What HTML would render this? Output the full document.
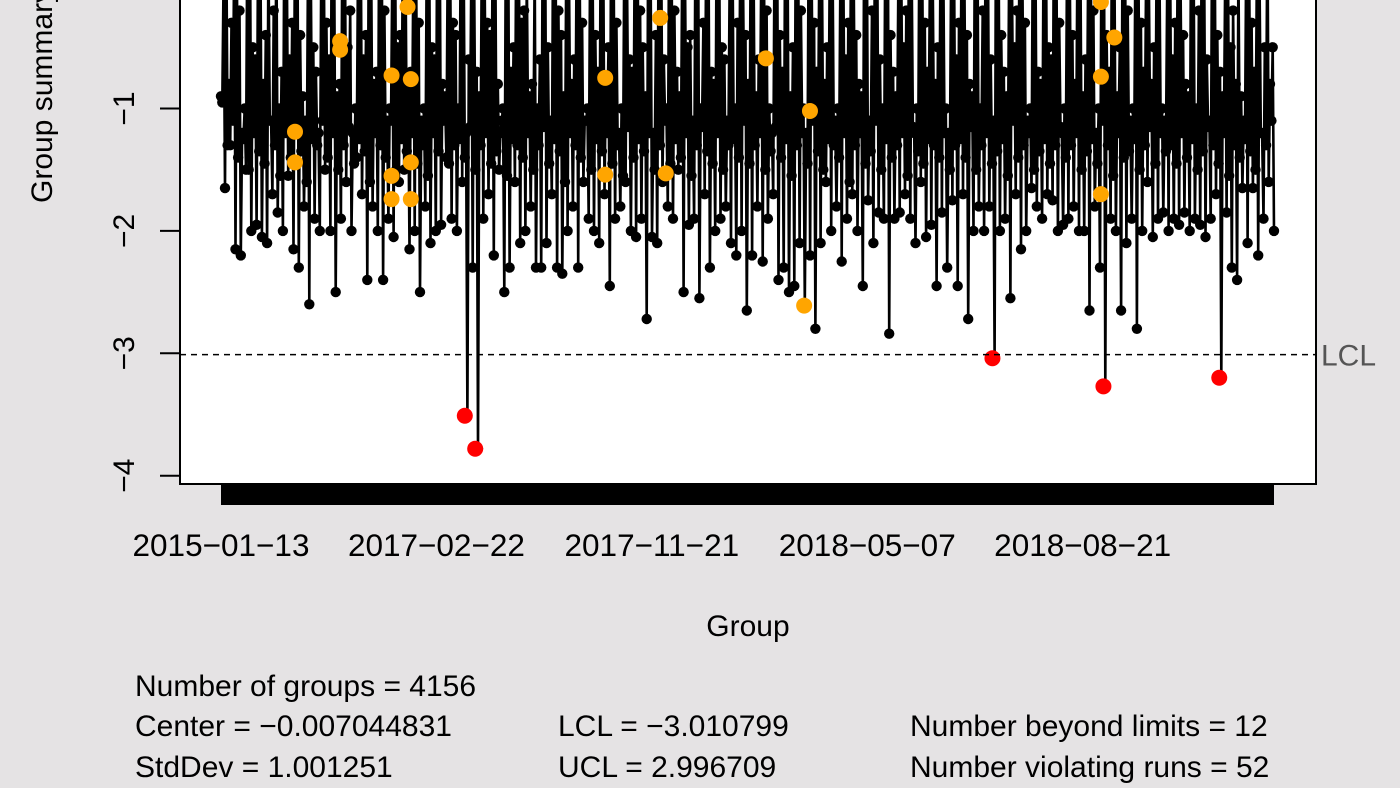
<!DOCTYPE html>
<html><head><meta charset="utf-8"><style>
html,body{margin:0;padding:0;background:#e5e3e4;}
svg{display:block;font-family:"Liberation Sans",Arial,sans-serif;}
</style></head><body>
<svg id="chart" width="1400" height="788" viewBox="0 0 1400 788" xmlns="http://www.w3.org/2000/svg">
<rect x="0" y="0" width="1400" height="788" fill="#e5e3e4"/>
<rect x="180" y="-5" width="1136" height="489" fill="#fff" stroke="#000" stroke-width="2"/>
<g id="series"></g>
<g id="yaxis"></g>
<g id="xaxis"></g>
<text x="0" y="0" transform="translate(52,203) rotate(-90)" font-size="30" fill="#000">Group summary statistics</text>
<text x="748" y="636" font-size="30" text-anchor="middle">Group</text>
<g font-size="30" fill="#000">
<text x="135" y="696">Number of groups = 4156</text>
<text x="135" y="736">Center = −0.007044831</text>
<text x="135" y="777">StdDev = 1.001251</text>
<text x="558" y="736">LCL = −3.010799</text>
<text x="558" y="777">UCL = 2.996709</text>
<text x="910" y="736">Number beyond limits = 12</text>
<text x="910" y="777">Number violating runs = 52</text>
</g>
</svg>
<script>
const nGroups = 4156;
const lcl = -3.010799;
const yTicks = [-1, -2, -3, -4];
const xTickLabels = ["2015-01-13","2017-02-22","2017-11-21","2018-05-07","2018-08-21"];
const xTickGroups = [1, 851, 1701, 2551, 3401];
const lows = [
-1.65,-1.3,-2.15,-2.2,-1.5,-2.0,-1.95,-2.05,-2.1,-1.7,-1.85,-2.0,-1.55,-2.15,-2.3,-1.8,-2.6,-1.9,-2.0,-1.5,
-2.0,-2.5,-1.9,-1.6,-2.0,-1.4,-1.7,-2.4,-1.8,-2.0,-2.4,-1.9,-2.05,-1.6,-1.5,-2.15,-2.0,-2.5,-1.8,-2.1,
-2.0,-1.95,-1.4,-1.9,-2.0,-1.6,-3.51,-2.3,-3.78,-1.9,-1.7,-2.2,-1.5,-2.5,-2.3,-1.6,-2.1,-2.0,-1.8,-2.3,
-2.3,-2.1,-1.7,-2.3,-2.35,-2.0,-1.8,-2.3,-1.6,-1.9,-2.0,-2.1,-1.7,-2.45,-1.9,-1.8,-1.6,-2.0,-2.05,-1.9,
-2.72,-2.05,-2.1,-1.6,-1.8,-1.9,-1.5,-2.5,-1.95,-1.9,-2.55,-1.7,-2.3,-2.0,-1.9,-1.8,-2.1,-2.2,-2.0,-2.65,
-2.2,-1.8,-2.25,-1.9,-1.7,-2.4,-2.3,-2.5,-2.45,-2.1,-2.6,-2.2,-2.8,-2.1,-1.6,-2.0,-1.8,-2.25,-1.9,-1.7,
-2.0,-2.45,-1.75,-2.1,-1.85,-1.9,-2.84,-1.9,-1.85,-1.7,-1.9,-2.1,-1.6,-2.05,-1.95,-2.45,-1.85,-2.3,-1.75,-2.45,
-1.7,-2.72,-2.0,-1.8,-2.0,-1.8,-3.04,-2.0,-1.9,-2.55,-1.7,-2.15,-2.0,-1.65,-1.8,-1.9,-1.7,-1.75,-2.0,-1.95,
-1.9,-1.8,-2.0,-2.0,-2.65,-1.8,-2.3,-3.27,-1.9,-2.0,-2.65,-2.1,-1.9,-2.8,-2.0,-1.6,-2.05,-1.9,-1.85,-2.0,
-1.9,-1.95,-1.85,-2.0,-1.9,-1.95,-2.05,-1.9,-1.7,-3.20,-1.85,-2.3,-2.4,-1.65,-2.1,-1.65,-2.2,-1.9,-1.6,-2.0];
const uppers = [
-0.95,-1.3,-1.1,-1.4,-1.25,-1.5,-1.2,-1.35,-1.45,-1.1,-1.3,-1.55,-1.2,-1.4,-1.15,-1.35,-1.6,-1.25,-1.3,-1.1,
-1.4,-1.2,-1.5,-1.3,-1.15,-1.45,-1.25,-1.35,-1.6,-1.2,-1.3,-1.4,-1.1,-1.5,-1.25,-1.35,-1.2,-1.45,-1.3,-1.55,
-1.2,-1.35,-1.1,-1.45,-1.3,-1.25,-1.4,-1.15,-1.5,-1.3,-1.2,-1.45,-1.35,-1.1,-1.55,-1.25,-1.3,-1.4,-1.2,-1.5,
-1.3,-1.15,-1.45,-1.25,-1.35,-1.6,-1.2,-1.3,-1.4,-1.1,-1.5,-1.25,-1.35,-1.2,-1.45,-1.3,-1.55,-1.15,-1.4,-1.25,
-1.35,-1.2,-1.5,-1.3,-1.1,-1.45,-1.25,-1.4,-1.2,-1.55,-1.3,-1.15,-1.35,-1.45,-1.2,-1.5,-1.3,-1.25,-1.4,-1.1,
-1.45,-1.3,-1.2,-1.5,-1.35,-1.15,-1.4,-1.25,-1.55,-1.3,-1.2,-1.45,-1.1,-1.35,-1.5,-1.25,-1.3,-1.4,-1.2,-1.6,
-1.3,-1.2,-1.45,-1.35,-1.1,-1.5,-1.25,-1.4,-1.3,-1.2,-1.55,-1.15,-1.35,-1.45,-1.25,-1.3,-1.4,-1.2,-1.5,-1.3,
-1.25,-1.4,-1.15,-1.5,-1.3,-1.2,-1.45,-1.35,-1.25,-1.55,-1.1,-1.4,-1.3,-1.2,-1.5,-1.35,-1.25,-1.45,-1.3,-1.15,
-1.4,-1.3,-1.2,-1.5,-1.35,-1.25,-1.45,-1.1,-1.3,-1.55,-1.2,-1.4,-1.35,-1.25,-1.5,-1.3,-1.15,-1.45,-1.2,-1.35,
-1.3,-1.45,-1.2,-1.4,-1.25,-1.5,-1.35,-1.15,-1.3,-1.45,-1.2,-1.55,-1.3,-1.4,-1.25,-1.35,-1.5,-1.2,-1.3,-1.1];
const highs = [
-0.9,0.4,-0.3,0.2,-1.2,0.6,-0.5,0.1,-0.8,0.3,-0.2,-1.0,0.5,-0.6,0.2,-0.4,-1.1,0.4,-0.7,0.1,
-0.3,0.5,-0.9,0.2,-0.5,-1.2,0.3,-0.6,0.1,-0.8,0.4,-0.2,-1.0,0.6,-0.4,0.2,-0.7,0.3,-1.1,0.1,
-0.5,0.4,-0.8,0.2,-0.3,-1.0,0.5,-0.6,0.3,-0.9,0.1,-0.4,0.6,-1.2,0.2,-0.7,0.4,-0.3,0.1,-0.8,
-1.0,0.3,-0.5,0.5,-0.2,-0.9,0.2,-0.6,0.4,-1.1,0.1,-0.4,0.3,-0.8,0.6,-0.3,-1.0,0.2,-0.7,0.4,
-0.5,0.1,-1.2,0.3,-0.6,0.5,-0.2,-0.9,0.2,-0.4,0.4,-1.0,0.1,-0.7,0.3,-0.5,-1.1,0.6,-0.3,0.2,
-0.8,0.4,-0.6,0.1,-1.0,0.3,-0.4,0.5,-0.9,0.2,-0.2,-1.2,0.4,-0.7,0.1,-0.5,0.3,-1.0,0.6,-0.3,
0.2,-0.8,0.4,-1.1,0.1,-0.6,0.3,-0.4,-0.9,0.5,-0.2,0.2,-1.0,0.4,-0.7,0.1,-0.5,0.3,-1.2,0.6,
-0.3,0.2,-0.8,0.4,-1.0,0.1,-0.6,0.5,-0.4,-0.9,0.3,-0.2,0.2,-1.1,0.4,-0.7,0.1,-0.5,0.6,-0.3,
-1.0,0.2,-0.8,0.4,-0.6,0.1,-1.2,0.3,-0.4,0.5,-0.9,0.2,-0.2,-1.0,0.4,-0.7,0.1,-0.5,0.3,-1.1,
0.6,-0.3,0.2,-0.8,0.4,-1.0,0.1,-0.6,0.5,-0.4,-0.9,0.3,-0.2,0.2,-1.1,0.4,-0.7,0.1,-0.5,-0.8];
const orangeGroups = [293,293,471,471,674,674,674,737,750,750,750,1517,1517,1734,1756,2151,2325,2302,3473,3473,3526,3473];
const orangeValues = [-1.19,-1.44,-0.52,-0.45,-0.73,-1.55,-1.74,-0.17,-0.76,-1.44,-1.74,-0.75,-1.54,-0.26,-1.53,-0.59,-1.02,-2.61,-0.13,-0.74,-0.42,-1.70];
const redGroups = [963, 1004, 3045, 3483, 3940];
const redValues = [-3.51,-3.78,-3.04,-3.27,-3.20];

const NS = "http://www.w3.org/2000/svg";
const X0 = 221, X1 = 1274;
function xScale(g){ return X0 + (g - 1) / (nGroups - 1) * (X1 - X0); }
function yScale(v){ return 108.5 + (-1 - v) * 122.4; }
function mk(tag, attrs, parent){ const e = document.createElementNS(NS, tag); for (const k in attrs) e.setAttribute(k, attrs[k]); parent.appendChild(e); return e; }

const series = document.getElementById('series');
const clip = mk('clipPath', {id:'pc'}, series);
mk('rect', {x:180, y:0, width:1136, height:484}, clip);
const g = mk('g', {'clip-path':'url(#pc)'}, series);


const seq = [];
const nBlocks = lows.length;
for (let i = 0; i < nBlocks; i++) {
  seq.push(highs[i]);
  seq.push(uppers[i]);
  seq.push(highs[(i + 7) % nBlocks]);
  seq.push(lows[i]);
}
const pts = seq.map((v, k) => [xScale(1 + k / (seq.length - 1) * (nGroups - 1)), yScale(v)]);
const line = mk('polyline', {points: pts.map(p => p[0].toFixed(1)+','+p[1].toFixed(1)).join(' '), fill:'none', stroke:'#000', 'stroke-width':2.6}, g);


pts.forEach(p => {
  const c = mk('circle', {cx:p[0].toFixed(1), cy:p[1].toFixed(1), r:5.2, fill:'#000'}, g);
  
  
});
orangeGroups.forEach((gg, i) => {
  const c = mk('circle', {cx:xScale(gg), cy:yScale(orangeValues[i]), r:8, fill:'#ffa500'}, g);
  
  
});
redGroups.forEach((gg, i) => {
  const c = mk('circle', {cx:xScale(gg), cy:yScale(redValues[i]), r:8, fill:'#ff0000'}, g);
  
  
});
const lclLine = mk('line', {x1:180, x2:1316, y1:yScale(lcl), y2:yScale(lcl), stroke:'#000', 'stroke-width':1.5, 'stroke-dasharray':'6,5'}, series);


const lclLab = mk('text', {x:1321, y:yScale(lcl)+11, 'font-size':30, fill:'#555'}, series);
lclLab.textContent = 'LCL';



const ya = document.getElementById('yaxis');
yTicks.forEach(v => {
  const y = yScale(v);
  const t = mk('line', {x1:160, x2:180, y1:y, y2:y, stroke:'#000', 'stroke-width':2}, ya);
  
  
  const l = mk('text', {x:0, y:0, transform:'translate(134,'+y+') rotate(-90)', 'text-anchor':'middle', 'font-size':30}, ya);
  l.textContent = '\u2212' + Math.abs(v);
  
  
});

const xa = document.getElementById('xaxis');
const band = mk('rect', {x:X0, y:484, width:X1-X0, height:21, fill:'#000'}, xa);


xTickLabels.forEach((lab, i) => {
  const t = mk('text', {x:xScale(xTickGroups[i]), y:556, 'text-anchor':'middle', 'font-size':31.5}, xa);
  t.textContent = lab.replace(/-/g, '\u2212');
  
  
});
</script>
</body></html>
